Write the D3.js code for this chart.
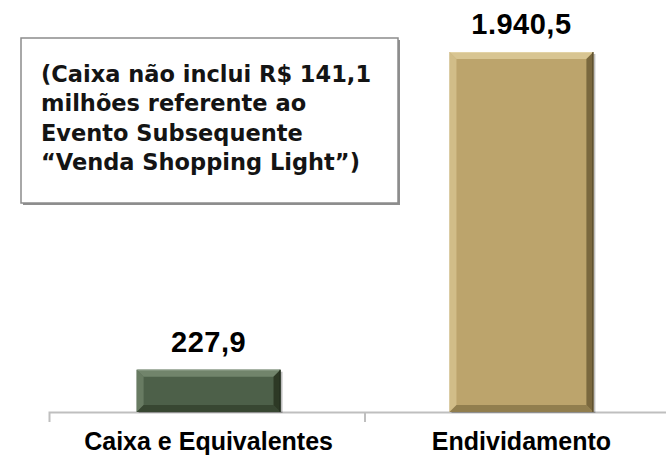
<!DOCTYPE html>
<html>
<head>
<meta charset="utf-8">
<script src="https://cdn.jsdelivr.net/npm/d3@7"></script>
<style>
  html, body { margin: 0; padding: 0; background: #fff; }
  svg { display: block; }
</style>
</head>
<body>
<svg id="chart" width="666" height="458"></svg>
<script>
const categories = ["Caixa e Equivalentes", "Endividamento"];
const values = [227.9, 1940.5];
const valueLabels = ["227,9", "1.940,5"];
const noteLines = ["(Caixa não inclui R$ 141,1", "milhões referente ao", "Evento Subsequente", "“Venda Shopping Light”)"];

const palette = [
  { base: "#4d6049", light: "#71846b", lighter: "#8a9a84", dark: "#28331f", shadowEdge: "#1f2a1c" },
  { base: "#bca46c", light: "#d8c592", lighter: "#e3d3a6", dark: "#6e5e36", shadowEdge: "#4f4428" }
];

const svg = d3.select("#chart");
const baseY = 412;

const x = d3.scaleBand().domain(categories).range([49, 681]).paddingInner(0.54).paddingOuter(0.28);
const y = d3.scaleLinear().domain([0, 2200]).range([baseY, baseY - 2200 * 360 / 1940.5]);

// Annotation box
const box = svg.append("g");
box.append("rect").attr("x", 23).attr("y", 40).attr("width", 377).attr("height", 165).attr("fill", "#8f8f8f");
box.append("rect").attr("x", 21).attr("y", 38).attr("width", 377).attr("height", 165)
  .attr("fill", "#fff").attr("stroke", "#8c8c8c").attr("stroke-width", 1.5);
const noteG = box.append("g").attr("transform", "translate(41,0)");
noteG.selectAll("text").data(noteLines).join("text")
  .attr("x", 0)
  .attr("y", (d, i) => 82 + i * 29.3)
  .attr("font-family", "DejaVu Sans")
  .attr("font-weight", "bold")
  .attr("font-size", 22.5)
  .attr("fill", "#141414")
  .text(d => d);

// Axis
const axis = d3.axisBottom(x).tickSize(0).tickSizeOuter(10).tickPadding(0);
const axG = svg.append("g").attr("transform", `translate(0,${baseY})`).call(axis);
axG.select(".domain").attr("stroke", "#bfbfbf").attr("stroke-width", 2);
axG.selectAll(".tick text")
  .attr("y", 38).attr("dy", 0)
  .attr("font-family", "Liberation Sans")
  .attr("font-weight", "bold")
  .attr("font-size", 25)
  .attr("fill", "#000");
// boundary ticks between categories
const boundaries = categories.slice(1).map(c => x(c) - x.step() * x.paddingInner() / 2);
axG.selectAll(".btick").data(boundaries).join("line")
  .attr("x1", d => d).attr("x2", d => d).attr("y1", 0).attr("y2", 10)
  .attr("stroke", "#bfbfbf").attr("stroke-width", 2);

// Bars with bevel
const b = 7;
const barsG = svg.append("g");
categories.forEach((c, i) => {
  const x0 = x(c), x1 = x(c) + x.bandwidth(), y0 = y(values[i]), y1 = y(0);
  const col = palette[i];
  const g = barsG.append("g");
  g.append("rect").attr("x", x0 + 2).attr("y", y0 + 2).attr("width", x1 - x0).attr("height", y1 - y0 - 1)
    .attr("fill", "#000").attr("opacity", 0.25);
  g.append("rect").attr("x", x0).attr("y", y0).attr("width", x1 - x0).attr("height", y1 - y0).attr("fill", col.base);
  const poly = pts => pts.map(p => p.join(",")).join(" ");
  g.append("polygon").attr("points", poly([[x0, y0], [x1, y0], [x1 - b, y0 + b], [x0 + b, y0 + b]])).attr("fill", col.light);
  g.append("line").attr("x1", x0 + 1).attr("x2", x1 - 1).attr("y1", y0 + 0.5).attr("y2", y0 + 0.5).attr("stroke", col.lighter).attr("stroke-width", 1);
  g.append("polygon").attr("points", poly([[x0, y0], [x0 + b, y0 + b], [x0 + b, y1 - b], [x0, y1]])).attr("fill", col.light).attr("opacity", 0.75);
  g.append("polygon").attr("points", poly([[x1, y0], [x1, y1], [x1 - b, y1 - b], [x1 - b, y0 + b]])).attr("fill", col.dark).attr("opacity", 0.85);
  g.append("polygon").attr("points", poly([[x0, y1], [x1, y1], [x1 - b, y1 - b], [x0 + b, y1 - b]])).attr("fill", col.dark).attr("opacity", 0.55);
  g.append("line").attr("x1", x1 - 0.5).attr("x2", x1 - 0.5).attr("y1", y0).attr("y2", y1).attr("stroke", col.shadowEdge).attr("stroke-width", 1);
});

// value labels
svg.append("g").selectAll("text").data(categories).join("text")
  .attr("x", c => x(c) + x.bandwidth() / 2)
  .attr("y", (c, i) => y(values[i]) - 18)
  .attr("text-anchor", "middle")
  .attr("font-family", "Liberation Sans")
  .attr("font-weight", "bold")
  .attr("font-size", 29)
  .attr("letter-spacing", 0.5)
  .attr("fill", "#000")
  .text((c, i) => valueLabels[i]);
</script>
</body>
</html>
